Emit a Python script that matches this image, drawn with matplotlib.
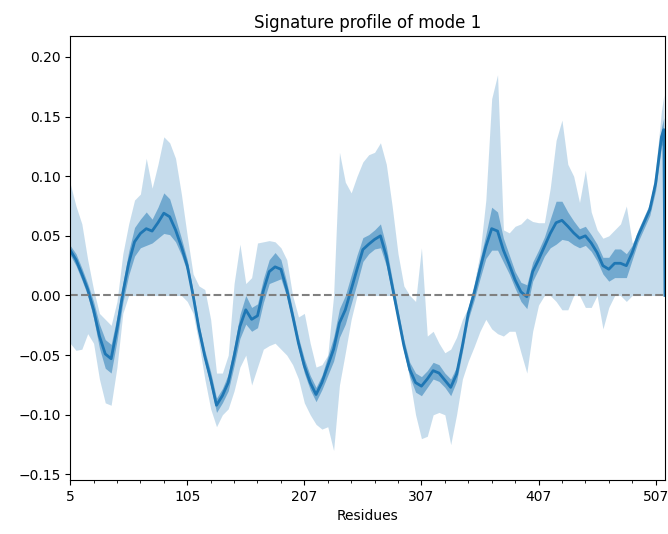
import numpy as np
import matplotlib
matplotlib.use("Agg")
import matplotlib.pyplot as plt
from matplotlib.ticker import MultipleLocator

# residue index positions (0-based index into the residue list)
idx = list(range(0, 506, 5)) + [507, 508]

mean_vals = [
    0.038, 0.030, 0.018, 0.005, -0.012, -0.034, -0.049, -0.053, -0.028, 0.002,
    0.027, 0.045, 0.052, 0.056, 0.054, 0.061, 0.069, 0.066, 0.055, 0.041,
    0.025, 0.000, -0.028, -0.051, -0.070, -0.092, -0.084, -0.073, -0.051, -0.026,
    -0.012, -0.020, -0.017, 0.004, 0.020, 0.024, 0.022, 0.005, -0.017, -0.040,
    -0.059, -0.073, -0.083, -0.073, -0.059, -0.045, -0.023, -0.012, 0.005, 0.022,
    0.0385, 0.043, 0.047, 0.050, 0.033, 0.008, -0.017, -0.042, -0.062, -0.073,
    -0.076, -0.070, -0.063, -0.065, -0.071, -0.077, -0.066, -0.042, -0.015, 0.002,
    0.022, 0.041, 0.056, 0.054, 0.038, 0.026, 0.013, 0.003, -0.001, 0.020,
    0.030, 0.041, 0.052, 0.061, 0.063, 0.058, 0.0525, 0.048, 0.050, 0.044,
    0.036, 0.025, 0.022, 0.027, 0.027, 0.025, 0.036, 0.050, 0.061, 0.072,
    0.094, 0.133, 0.139, 0.0,
]

std_vals = [
    0.004, 0.005, 0.005, 0.005, 0.007, 0.010, 0.012, 0.012, 0.010, 0.008,
    0.010, 0.012, 0.012, 0.014, 0.010, 0.013, 0.017, 0.015, 0.010, 0.007,
    0.005, 0.004, 0.004, 0.005, 0.006, 0.006, 0.006, 0.007, 0.008, 0.010,
    0.012, 0.010, 0.010, 0.010, 0.010, 0.012, 0.008, 0.006, 0.005, 0.005,
    0.006, 0.006, 0.006, 0.006, 0.008, 0.010, 0.012, 0.012, 0.012, 0.012,
    0.010, 0.008, 0.008, 0.010, 0.008, 0.006, 0.005, 0.005, 0.006, 0.008,
    0.008, 0.007, 0.007, 0.007, 0.006, 0.007, 0.006, 0.005, 0.005, 0.006,
    0.008, 0.010, 0.018, 0.016, 0.010, 0.008, 0.007, 0.008, 0.010, 0.008,
    0.008, 0.008, 0.012, 0.018, 0.016, 0.012, 0.010, 0.008, 0.008, 0.007,
    0.007, 0.007, 0.010, 0.012, 0.012, 0.010, 0.006, 0.005, 0.005, 0.005,
    0.006, 0.008, 0.010, 0.0,
]

max_vals = [
    0.094, 0.075, 0.060, 0.030, 0.005, -0.015, -0.020, -0.025, -0.005, 0.035,
    0.060, 0.080, 0.085, 0.115, 0.090, 0.110, 0.133, 0.128, 0.115, 0.085,
    0.050, 0.018, 0.008, 0.005, -0.020, -0.065, -0.065, -0.050, 0.010, 0.043,
    0.010, 0.015, 0.044, 0.045, 0.046, 0.045, 0.040, 0.030, 0.000, -0.018,
    -0.015, -0.040, -0.060, -0.058, -0.050, 0.000, 0.120, 0.095, 0.086, 0.100,
    0.112, 0.118, 0.120, 0.128, 0.110, 0.075, 0.035, 0.008, 0.000, -0.005,
    0.040, -0.034, -0.030, -0.040, -0.048, -0.045, -0.035, -0.020, -0.010, 0.010,
    0.035, 0.080, 0.165, 0.185, 0.055, 0.0525, 0.058, 0.060, 0.065, 0.062,
    0.061, 0.061, 0.090, 0.130, 0.147, 0.110, 0.100, 0.078, 0.105, 0.070,
    0.055, 0.048, 0.050, 0.055, 0.060, 0.075, 0.044, 0.050, 0.063, 0.075,
    0.105, 0.155, 0.168, 0.0,
]

min_vals = [
    -0.040, -0.046, -0.045, -0.032, -0.040, -0.070, -0.090, -0.092, -0.060, -0.015,
    0.0, 0.0, 0.0, 0.0, 0.0, 0.0, 0.0, 0.0, 0.0, 0.0,
    -0.005, -0.015, -0.040, -0.070, -0.095, -0.110, -0.100, -0.095, -0.080, -0.060,
    -0.050, -0.075, -0.060, -0.045, -0.042, -0.040, -0.045, -0.050, -0.058, -0.070,
    -0.090, -0.100, -0.108, -0.112, -0.110, -0.130, -0.075, -0.048, -0.020, 0.0,
    0.0, 0.0, 0.0, 0.0, 0.0, 0.0, -0.020, -0.045, -0.070, -0.100,
    -0.120, -0.118, -0.100, -0.098, -0.100, -0.125, -0.100, -0.070, -0.055, -0.043,
    -0.030, -0.020, -0.028, -0.032, -0.034, -0.030, -0.030, -0.048, -0.065, -0.030,
    -0.008, 0.0, 0.0, -0.005, -0.012, -0.012, 0.0, 0.0, -0.010, -0.010,
    0.0, -0.028, -0.010, 0.0, 0.0, -0.005, 0.0, 0.0, 0.0, 0.0,
    0.0, 0.0, 0.0, 0.0,
]

tick_positions = [0, 100, 200, 300, 400, 500]
tick_labels = ["5", "105", "207", "307", "407", "507"]

x = np.array(idx, dtype=float)
m = np.array(mean_vals)
s = np.array(std_vals)
lo = np.minimum(np.array(min_vals), m)
hi = np.maximum(np.array(max_vals), m)

fig = plt.figure(figsize=(6.68, 5.34), dpi=100)
ax = fig.add_axes([0.105, 0.101, 0.8905, 0.8316])

color = "#1f77b4"
ax.fill_between(x, lo, hi, color=color, alpha=0.25, linewidth=0)
ax.fill_between(x, m - s, m + s, color=color, alpha=0.5, linewidth=0)
ax.plot(x, m, color=color, linewidth=2)
ax.axhline(0, color="gray", linestyle="--", linewidth=1.5)

ax.set_xlim(0, 508)
ax.set_ylim(-0.1547, 0.2175)
ax.set_xticks(tick_positions)
ax.set_xticklabels(tick_labels)
ax.xaxis.set_minor_locator(MultipleLocator(20))
ax.yaxis.set_major_locator(MultipleLocator(0.05))
ax.set_xlabel("Residues")
ax.set_title("Signature profile of mode 1")

fig.savefig("out.png", dpi=100)
